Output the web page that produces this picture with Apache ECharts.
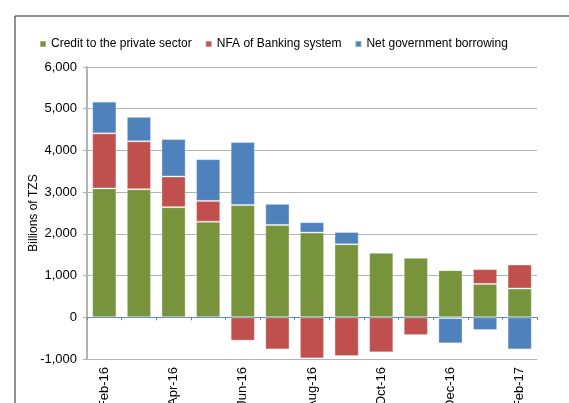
<!DOCTYPE html>
<html>
<head>
<meta charset="utf-8">
<script src="https://cdn.jsdelivr.net/npm/echarts@6/dist/echarts.min.js"></script>
<style>
html,body{margin:0;padding:0;background:#fff;}
#chart{width:569px;height:403px;}
</style>
</head>
<body>
<div id="chart"></div>
<script>
var categories = ['Feb-16','Mar-16','Apr-16','May-16','Jun-16','Jul-16','Aug-16','Sep-16','Oct-16','Nov-16','Dec-16','Jan-17','Feb-17'];
var creditPrivate = [3090, 3070, 2640, 2290, 2690, 2215, 2030, 1750, 1545, 1425, 1130, 800, 690];
var nfaBanking    = [1320, 1150, 735, 500, -560, -770, -985, -930, -840, -430, -20, 355, 575];
var netGovBorrow  = [760, 585, 900, 1000, 1510, 505, 250, 295, 25, 0, -605, -305, -770];
var yTicks = [-1000, 0, 1000, 2000, 3000, 4000, 5000, 6000];

var chart = echarts.init(document.getElementById('chart'), null, {renderer:'canvas'});
var font = '"Liberation Sans", Arial, sans-serif';
function barSeries(name, data, color){
  return {
    name: name, type: 'bar', stack: 'total', data: data,
    xAxisIndex: 0, barCategoryGap: '30%',
    itemStyle: {color: color, borderColor: 'rgba(255,255,255,0.35)', borderWidth: 1},
    emphasis: {disabled: true}
  };
}
var option = {
  animation: false,
  textStyle: {fontFamily: font},
  graphic: [{
    type: 'rect', left: 12.5, top: 13.5, z: -1,
    shape: {width: 600, height: 450},
    style: {fill: 'none', stroke: '#222', lineWidth: 1}
  }],
  legend: {
    left: 34, top: 33,
    itemWidth: 6, itemHeight: 6, itemGap: 13,
    icon: 'rect',
    textStyle: {fontSize: 12, color: '#000', fontFamily: font},
    data: ['Credit to the private sector','NFA of Banking system','Net government borrowing']
  },
  grid: {left: 87, right: 32, top: 67, bottom: 44, containLabel: false, outerBoundsMode: 'none'},
  xAxis: [{
    type: 'category', data: categories, position: 'bottom',
    axisLine: {show: false, onZero: false},
    axisTick: {show: false},
    axisLabel: {interval: 1, rotate: 90, fontSize: 13, color: '#000', margin: 8, fontFamily: font}
  },{
    type: 'category', data: categories, position: 'bottom',
    axisLine: {show: true, onZero: true, lineStyle: {color: '#5b8bc9', width: 1}},
    axisTick: {show: true, length: 3, inside: false, interval: 0, lineStyle: {color: '#5b8bc9'}},
    axisLabel: {show: false}
  }],
  yAxis: {
    type: 'value', min: -1000, max: 6000, interval: 1000,
    name: 'Billions of TZS', nameLocation: 'middle', nameGap: 47, nameMoveOverlap: false,
    nameTextStyle: {fontSize: 12, color: '#000', fontFamily: font},
    axisLine: {show: true, lineStyle: {color: '#b3b3b3', width: 2}},
    axisTick: {show: true, length: 4, lineStyle: {color: '#b3b3b3'}},
    splitLine: {show: true, lineStyle: {color: '#b3b3b3', width: 1}},
    axisLabel: {fontSize: 13, color: '#000', margin: 10, fontFamily: font,
      formatter: function(v){ return yTicks.indexOf(v) >= 0 ? v.toLocaleString('en-US') : ''; }}
  },
  series: [
    barSeries('Credit to the private sector', creditPrivate, '#77933c'),
    barSeries('NFA of Banking system', nfaBanking, '#c0504d'),
    barSeries('Net government borrowing', netGovBorrow, '#4f81bd')
  ]
};
chart.setOption(option);
</script>
</body>
</html>
